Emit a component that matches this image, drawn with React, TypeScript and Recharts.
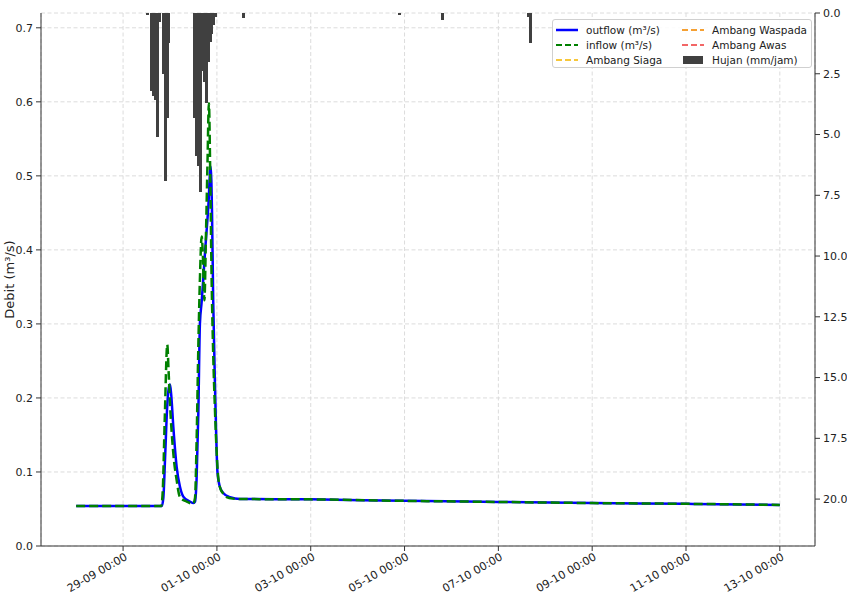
import {
  ComposedChart,
  Line,
  Bar,
  XAxis,
  YAxis,
  CartesianGrid,
  Label,
} from "recharts";

// jam sejak 28-09 00:00
const outflowHours = [0, 43.8, 44.6, 45.5, 46.5, 47.3, 48.0, 48.6, 49.7, 51.4, 53.1, 54.8, 58.2, 60.0, 60.8, 61.6, 62.5, 63.3, 64.2, 65.0, 65.9, 67.6, 68.8, 69.5, 70.1, 71.2, 72.3, 73.5, 75.2, 78.7, 83.8, 120, 168, 216, 264, 312, 360];
const outflowValues = [0.054, 0.054, 0.065, 0.12, 0.185, 0.212, 0.218, 0.205, 0.161, 0.107, 0.08, 0.0667, 0.06, 0.058, 0.06, 0.09, 0.18, 0.3, 0.33, 0.36, 0.396, 0.458, 0.513, 0.45, 0.332, 0.197, 0.099, 0.08, 0.0716, 0.066, 0.0635, 0.063, 0.061, 0.0595, 0.058, 0.057, 0.0555];

const inflowHours = [0, 43.5, 44.3, 45.3, 46.6, 47.3, 48.0, 49.7, 51.4, 53.1, 56.5, 59.8, 60.8, 61.6, 62.5, 63.3, 64.2, 64.7, 65.6, 66.4, 67.2, 67.9, 68.6, 69.3, 70.1, 71.0, 72.0, 72.7, 74.0, 75.2, 77, 80, 84, 120, 168, 216, 264, 312, 360];
const inflowValues = [0.054, 0.054, 0.075, 0.17, 0.272, 0.235, 0.193, 0.125, 0.089, 0.066, 0.06, 0.057, 0.065, 0.14, 0.27, 0.36, 0.418, 0.4, 0.332, 0.42, 0.52, 0.598, 0.5, 0.36, 0.26, 0.184, 0.12, 0.092, 0.076, 0.071, 0.066, 0.064, 0.0635, 0.063, 0.061, 0.0595, 0.058, 0.057, 0.0555];

const rainHours = [36, 38, 39, 40, 41, 42, 44, 45, 46, 47, 60, 61, 62, 63, 64, 65, 66, 67, 68, 69, 70, 71, 85, 165, 187, 231, 232];
const rainValues = [0.1, 3.2, 3.4, 3.6, 5.1, 0.35, 2.5, 6.9, 4.3, 1.25, 4.3, 5.9, 6.3, 7.35, 2.4, 2.85, 3.7, 2.0, 1.2, 0.85, 0.5, 0.15, 0.2, 0.08, 0.3, 0.15, 1.25];

const tickHours = [24, 72, 120, 168, 216, 264, 312, 360];
const tickLabels = [
  "29-09 00:00",
  "01-10 00:00",
  "03-10 00:00",
  "05-10 00:00",
  "07-10 00:00",
  "09-10 00:00",
  "11-10 00:00",
  "13-10 00:00",
];

const debitTicks = [0, 0.1, 0.2, 0.3, 0.4, 0.5, 0.6, 0.7];
const rainTicks = [0, 2.5, 5, 7.5, 10, 12.5, 15, 17.5, 20];

const legendItems = [
  { name: "outflow (m³/s)", color: "#0000ff", kind: "solid" },
  { name: "Ambang Waspada", color: "#f5a033", kind: "dash" },
  { name: "inflow (m³/s)", color: "#008000", kind: "dash" },
  { name: "Ambang Awas", color: "#f26666", kind: "dash" },
  { name: "Ambang Siaga", color: "#f7c73a", kind: "dash" },
  { name: "Hujan (mm/jam)", color: "#404040", kind: "box" },
];

const FONT = "DejaVu Sans, sans-serif";

// gabung semua titik waktu jadi satu tabel
const buildRows = () => {
  const map = new Map<number, any>();
  const get = (t: number) => {
    if (!map.has(t)) map.set(t, { t });
    return map.get(t);
  };
  outflowHours.forEach((h, i) => (get(h).outflow = outflowValues[i]));
  inflowHours.forEach((h, i) => (get(h).inflow = inflowValues[i]));
  rainHours.forEach((h, i) => (get(h + 0.5).hujan = rainValues[i]));
  return Array.from(map.values()).sort((a, b) => a.t - b.t);
};

const rows = buildRows();

// batang hujan selebar 1 jam (~2px), digantung dari atas
const RainBar = (p: any) => {
  const { x, y, width, height, fill } = p;
  if (x == null || y == null) return null;
  const cx = x + (width || 0) / 2;
  const top = Math.min(y, y + height);
  const h = Math.abs(height);
  return (
    <rect
      x={cx - 1.45}
      y={top}
      width={2.9}
      height={h}
      fill={fill}
      shapeRendering="crispEdges"
    />
  );
};

const XTick = (props: any) => {
  const { x, y, payload } = props;
  const idx = tickHours.indexOf(payload.value);
  return (
    <g transform={`translate(${x + 1},${y})`}>
      <text
        textAnchor="end"
        transform="rotate(-30)"
        dy={8}
        fontSize={11}
        fontFamily={FONT}
        fill="#222"
      >
        {idx >= 0 ? tickLabels[idx] : ""}
      </text>
    </g>
  );
};

const LegendBox = () => (
  <div
    style={{
      position: "absolute",
      left: 552,
      top: 19,
      width: 260,
      height: 49,
      border: "1px solid #d0d0d0",
      borderRadius: 3,
      background: "rgba(255,255,255,0.85)",
      fontFamily: FONT,
      fontSize: 10.5,
      color: "#222",
      display: "grid",
      gridTemplateColumns: "126px 128px",
      gridAutoRows: "15px",
      padding: "2px 0 0 3px",
      boxSizing: "border-box",
    }}
  >
    {legendItems.map((it) => (
      <div
        key={it.name}
        style={{ display: "flex", alignItems: "center", whiteSpace: "nowrap" }}
      >
        <svg width={22} height={10} style={{ marginRight: 8 }}>
          {it.kind === "box" ? (
            <rect x={1} y={1} width={20} height={8} fill={it.color} />
          ) : (
            <line
              x1={0}
              y1={5}
              x2={22}
              y2={5}
              stroke={it.color}
              strokeWidth={it.kind === "solid" ? 2.5 : 2}
              strokeDasharray={it.kind === "solid" ? undefined : "6 3"}
            />
          )}
        </svg>
        <span>{it.name}</span>
      </div>
    ))}
  </div>
);

export default function App() {
  return (
    <div
      style={{
        position: "absolute",
        left: 0,
        top: 0,
        width: 847,
        height: 605,
        background: "#fff",
      }}
    >
      <ComposedChart
        width={847}
        height={605}
        data={rows}
        margin={{ top: 13, right: 0, bottom: 0, left: 0 }}
      >
        <CartesianGrid
          xAxisId="main"
          yAxisId="left"
          stroke="#dcdcdc"
          strokeDasharray="4 2.5"
        />
        <XAxis
          xAxisId="main"
          dataKey="t"
          type="number"
          domain={[-18, 378]}
          ticks={tickHours}
          allowDataOverflow
          height={59}
          tickSize={5}
          tickMargin={1}
          tick={<XTick />}
          axisLine={{ stroke: "#333" }}
          tickLine={{ stroke: "#333" }}
        />
        <XAxis
          xAxisId="top"
          orientation="top"
          dataKey="t"
          type="number"
          domain={[-18, 378]}
          height={0}
          tick={false}
          tickLine={false}
          axisLine={{ stroke: "#333" }}
        />
        <YAxis
          yAxisId="left"
          domain={[0, 0.72]}
          ticks={debitTicks}
          allowDataOverflow
          width={41}
          tickSize={5}
          tickMargin={3}
          tickFormatter={(v: number) => v.toFixed(1)}
          tick={{ fontSize: 11, fontFamily: FONT, fill: "#222" }}
          axisLine={{ stroke: "#333" }}
          tickLine={{ stroke: "#333" }}
        >
          <Label
            content={(p: any) => {
              const vb = p.viewBox;
              const cx = vb.x + 9;
              const cy = vb.y + vb.height / 2;
              return (
                <text
                  x={cx}
                  y={cy}
                  transform={`rotate(-90, ${cx}, ${cy})`}
                  textAnchor="middle"
                  dominantBaseline="central"
                  fontSize={13}
                  fontFamily={FONT}
                  fill="#222"
                >
                  Debit (m³/s)
                </text>
              );
            }}
          />
        </YAxis>
        <YAxis
          yAxisId="right"
          orientation="right"
          reversed
          domain={[0, 21.93]}
          ticks={rainTicks}
          allowDataOverflow
          width={32}
          tickSize={5}
          tickMargin={3}
          tickFormatter={(v: number) => v.toFixed(1)}
          tick={{ fontSize: 11, fontFamily: FONT, fill: "#222", textAnchor: "start" }}
          axisLine={{ stroke: "#333" }}
          tickLine={{ stroke: "#333" }}
        />
        <Bar
          xAxisId="main"
          yAxisId="right"
          dataKey="hujan"
          fill="#404040"
          barSize={2}
          shape={<RainBar />}
          isAnimationActive={false}
        />
        <Line
          xAxisId="main"
          yAxisId="left"
          dataKey="outflow"
          type="monotone"
          stroke="#0000ff"
          strokeWidth={2.5}
          dot={false}
          connectNulls
          isAnimationActive={false}
        />
        <Line
          xAxisId="main"
          yAxisId="left"
          dataKey="inflow"
          type="monotone"
          stroke="#008000"
          strokeWidth={2.5}
          strokeDasharray="9 4"
          dot={false}
          connectNulls
          isAnimationActive={false}
        />
      </ComposedChart>
      <LegendBox />
    </div>
  );
}
